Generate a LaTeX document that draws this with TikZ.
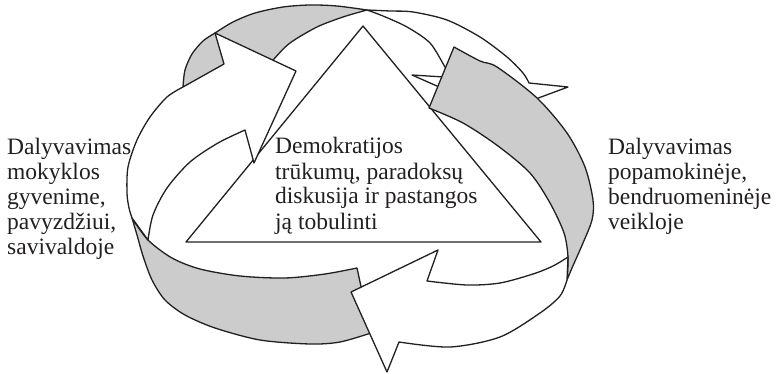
\documentclass[tikz,border=0pt]{standalone}
\usepackage{fontspec}
\setmainfont{Liberation Serif}
\definecolor{ribgray}{RGB}{204,204,204}
\definecolor{inkcol}{RGB}{35,31,32}
\tikzset{
  ribbon/.style={draw=inkcol, line width=1.3pt, line join=round},
  backside/.style={ribbon, fill=ribgray},
  frontside/.style={ribbon, fill=white},
  txt/.style={inner sep=0pt, text=inkcol, font=\fontsize{23.5}{25}\selectfont, anchor=base west}
}
\begin{document}
\begin{tikzpicture}[x=1pt, y=-1pt]
\useasboundingbox (0,0) rectangle (781,374);
% central triangle
\path[ribbon, fill=white] (363,26) -- (186,242) -- (541,242) -- cycle;
% arrow 1 (top): back side
\path[backside] (183,87) -- plot[smooth] coordinates {(183,87) (185,70) (192,54) (203,41) (215,33) (233,22) (255,13) (283,7) (310,5) (337,6) (367,10)}
  -- plot[smooth] coordinates {(367,10) (343,17) (317,27) (290,43) (273,60) (255,80)} -- (200,90) -- cycle;
% arrow 1 (top): front side with head
\path[frontside] plot[smooth] coordinates {(367,10) (390,11) (413,12) (447,20) (480,37) (507,57) (523,73) (529,83)}
  -- (568,87) -- (498,113) -- (412,75) -- (452,77.5)
  -- plot[smooth] coordinates {(452,77.5) (445,67) (430,43) (407,27) (383,16) (367,10)} -- cycle;
% arrow 2 (right): back side
\path[backside] (454,47) -- plot[smooth] coordinates {(454,47) (480,61) (497,67) (537,98) (567,133) (585,167) (593,200) (592,220) (583,243) (572,268) (567,280)}
  -- plot[smooth] coordinates {(567,280) (568,257) (564,233) (550,203) (530,173) (498,146) (463,123) (429,108)} -- cycle;
% arrow 3 (left): back side
\path[backside] plot[smooth] coordinates {(132,218) (148,240) (172,258) (200,269) (240,276) (285,278) (325,274) (357,268)}
  -- (371,333)
  -- plot[smooth] coordinates {(371,333) (340,342) (310,344) (260,340) (215,328) (185,315) (165,300) (152,280) (143,256) (137,235) (132,218)} -- cycle;
% arrow 2 (bottom): front side with head
\path[frontside] (351,292) -- (438,250) -- (427,281)
  -- plot[smooth] coordinates {(427,281) (467,285) (500,283) (533,274) (553,266) (568,257)}
  -- (567,280)
  -- plot[smooth] coordinates {(567,280) (560,296) (540,313) (500,337) (450,347) (399,342)}
  -- (387,372) -- cycle;
% arrow 3 (left): front side with head
\path[frontside] (215,33) -- (296,71) -- (254,163) -- (245,130)
  -- plot[smooth] coordinates {(245,130) (218,143) (190,162) (167,188) (153,215) (148,240)}
  -- (132,218)
  -- plot[smooth] coordinates {(132,218) (129,208) (127,193) (128,167) (137,140) (150,117) (167,97) (183,87)}
  -- (224,64) -- cycle;
% texts
\node[txt] (lefttext) at (7,155) {\begin{tabular}[t]{@{}l@{}}Dalyvavimas\\mokyklos\\gyvenime,\\pavyzdžiui,\\savivaldoje\end{tabular}};
\node[txt] (centertext) at (275,154) {\begin{tabular}[t]{@{}l@{}}Demokratijos\\trūkumų, paradoksų\\diskusija ir pastangos\\ją tobulinti\end{tabular}};
\node[txt] (righttext) at (608,155) {\begin{tabular}[t]{@{}l@{}}Dalyvavimas\\popamokinėje,\\bendruomeninėje\\veikloje\end{tabular}};
\end{tikzpicture}
\end{document}
